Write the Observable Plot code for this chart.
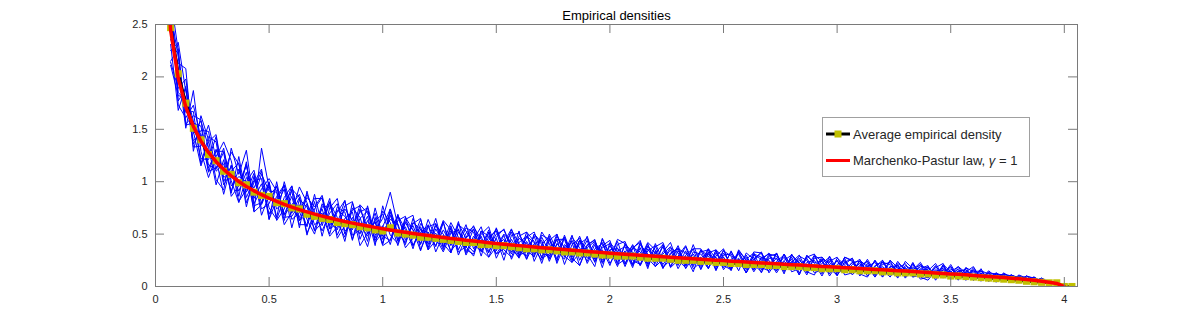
<!DOCTYPE html>
<html><head><meta charset="utf-8">
<script src="https://cdn.jsdelivr.net/npm/d3@7"></script>
<script src="https://cdn.jsdelivr.net/npm/@observablehq/plot@0.6"></script>
<style>
body{margin:0;background:#fff;}
#wrap{position:relative;width:1190px;height:322px;font-family:"Liberation Sans",Arial,sans-serif;}
#legend{position:absolute;left:0;top:0;pointer-events:none;}
</style>
</head><body>
<div id="wrap"></div>
<script>
// ---- data ----
const title = "Empirical densities";
const xTicks = [0, 0.5, 1, 1.5, 2, 2.5, 3, 3.5, 4];
const yTicks = [0, 0.5, 1, 1.5, 2, 2.5];
const binWidth = 1 / 30;           // histogram bin spacing
const firstBin = 2;                // first bin index shown for the empirical curves
const redFirstBin = 1;

// individual empirical densities (a sample of the blue runs)
const run1 = [2.71,1.85,1.78,1.36,1.49,1.48,1.10,1.17,0.91,1.12, 0.90,1.08,0.68,0.87,0.95,0.68,0.78,0.88,0.64,0.50, 0.76,0.77,0.61,0.47,0.80,0.59,0.48,0.63,0.69,0.49, 0.41,0.62,0.54,0.41,0.64,0.46,0.33,0.51,0.54,0.37, 0.55,0.33,0.44,0.55,0.35,0.28,0.46,0.41,0.29,0.47, 0.33,0.45,0.21,0.40,0.46,0.27,0.33,0.42,0.22,0.34, 0.38,0.21,0.42,0.27,0.19,0.33,0.42,0.22,0.29,0.14, 0.35,0.29,0.18,0.35,0.19,0.26,0.13,0.30,0.26,0.19, 0.27,0.12,0.31,0.18,0.27,0.15,0.22,0.28,0.11,0.20, 0.15,0.24,0.12,0.25,0.16,0.09,0.20,0.13,0.21,0.11, 0.18,0.10,0.20,0.07,0.14,0.16,0.08,0.13,0.05,0.10, 0.12,0.07,0.10,0.04,0.07,0.06,0.03,0.04,0.01,0.00];
const run2 = [2.25,2.33,1.86,1.58,1.22,1.21,1.43,1.00,1.15,0.97, 1.15,0.84,0.98,0.69,0.86,0.97,0.64,0.70,0.88,0.71, 0.53,0.70,0.79,0.53,0.59,0.71,0.75,0.42,0.52,0.64, 0.60,0.37,0.46,0.64,0.40,0.58,0.50,0.34,0.43,0.59, 0.36,0.48,0.28,0.38,0.50,0.42,0.29,0.52,0.43,0.28, 0.46,0.31,0.38,0.23,0.32,0.48,0.26,0.37,0.41,0.21, 0.26,0.40,0.27,0.38,0.32,0.18,0.26,0.39,0.20,0.31, 0.19,0.36,0.27,0.20,0.33,0.21,0.28,0.14,0.25,0.32, 0.19,0.28,0.16,0.23,0.11,0.29,0.17,0.14,0.25,0.15, 0.23,0.14,0.26,0.14,0.11,0.19,0.08,0.20,0.16,0.21, 0.08,0.16,0.13,0.19,0.09,0.09,0.16,0.05,0.13,0.08, 0.08,0.11,0.08,0.04,0.06,0.06,0.04,0.02,0.01,0.00];
const run3 = [2.88,1.73,1.61,1.73,1.42,1.13,1.29,1.29,1.01,0.80, 1.04,0.94,1.10,0.75,0.64,0.85,0.96,0.63,0.69,0.84, 0.84,0.55,0.71,0.82,0.49,0.54,0.67,0.39,0.77,0.52, 0.68,0.54,0.39,0.55,0.44,0.65,0.38,0.56,0.30,0.47, 0.58,0.40,0.51,0.31,0.42,0.55,0.34,0.29,0.50,0.40, 0.27,0.48,0.37,0.42,0.20,0.37,0.43,0.29,0.27,0.45, 0.41,0.32,0.20,0.36,0.24,0.38,0.19,0.29,0.39,0.23, 0.28,0.17,0.35,0.28,0.17,0.34,0.25,0.21,0.14,0.29, 0.31,0.19,0.23,0.30,0.15,0.17,0.28,0.21,0.13,0.27, 0.11,0.19,0.24,0.11,0.23,0.21,0.12,0.18,0.09,0.17, 0.20,0.06,0.16,0.14,0.19,0.08,0.11,0.15,0.12,0.06, 0.13,0.08,0.06,0.10,0.05,0.05,0.05,0.03,0.02,0.00];
const run4 = [2.36,2.13,2.08,1.29,1.63,1.40,1.02,0.92,1.32,1.07, 1.30,0.79,0.93,1.03,0.91,0.59,0.71,0.95,0.80,0.59, 0.64,0.84,0.49,0.65,0.71,0.39,0.51,0.70,0.45,0.71, 0.44,0.64,0.68,0.35,0.52,0.38,0.61,0.39,0.55,0.30, 0.45,0.57,0.33,0.46,0.25,0.49,0.51,0.35,0.28,0.52, 0.41,0.24,0.47,0.28,0.44,0.31,0.19,0.46,0.30,0.24, 0.33,0.20,0.37,0.17,0.41,0.25,0.35,0.17,0.30,0.36, 0.16,0.31,0.22,0.34,0.29,0.15,0.32,0.26,0.18,0.15, 0.32,0.16,0.28,0.13,0.23,0.25,0.12,0.29,0.16,0.13, 0.21,0.26,0.12,0.18,0.09,0.25,0.18,0.10,0.19,0.12, 0.10,0.18,0.22,0.07,0.15,0.16,0.06,0.12,0.07,0.13, 0.06,0.11,0.08,0.06,0.09,0.04,0.05,0.03,0.01,0.00];
const run5 = [2.54,2.06,1.51,1.87,1.29,1.04,1.24,1.38,1.20,0.86, 1.19,0.71,0.78,0.96,0.74,0.81,0.91,0.56,0.91,0.64, 0.74,0.50,0.76,0.71,0.44,0.74,0.56,0.61,0.41,0.74, 0.51,0.42,0.60,0.65,0.35,0.55,0.42,0.61,0.47,0.35, 0.31,0.50,0.57,0.34,0.49,0.26,0.42,0.48,0.36,0.25, 0.50,0.34,0.26,0.47,0.37,0.24,0.40,0.18,0.42,0.33, 0.21,0.37,0.33,0.22,0.38,0.42,0.23,0.25,0.18,0.33, 0.31,0.21,0.34,0.16,0.26,0.31,0.16,0.33,0.32,0.20, 0.15,0.31,0.18,0.25,0.18,0.30,0.24,0.12,0.27,0.21, 0.27,0.12,0.19,0.23,0.13,0.11,0.24,0.15,0.11,0.21, 0.15,0.22,0.10,0.15,0.07,0.18,0.14,0.07,0.15,0.09, 0.10,0.05,0.11,0.08,0.05,0.08,0.04,0.04,0.01,0.00];
const run6 = [2.14,1.89,1.98,1.46,1.58,1.33,0.97,1.21,0.89,1.24, 0.85,1.01,1.03,0.64,1.00,0.66,0.67,0.78,0.57,0.81, 0.48,0.75,0.84,0.50,0.66,0.50,0.77,0.49,0.58,0.40, 0.67,0.47,0.58,0.40,0.59,0.33,0.49,0.43,0.59,0.53, 0.40,0.34,0.47,0.53,0.30,0.45,0.32,0.47,0.52,0.32, 0.29,0.45,0.45,0.25,0.41,0.46,0.28,0.35,0.20,0.40, 0.43,0.25,0.21,0.39,0.26,0.31,0.38,0.20,0.34,0.17, 0.23,0.36,0.20,0.28,0.15,0.33,0.20,0.28,0.13,0.27, 0.27,0.14,0.30,0.23,0.15,0.18,0.26,0.10,0.21,0.25, 0.16,0.22,0.10,0.19,0.25,0.11,0.17,0.22,0.09,0.16, 0.16,0.08,0.18,0.10,0.19,0.13,0.06,0.13,0.08,0.13, 0.09,0.09,0.06,0.10,0.07,0.04,0.05,0.03,0.02,0.00];
const run7 = [2.62,2.19,1.66,1.67,1.17,1.43,1.38,0.97,1.09,0.91, 1.09,0.72,1.32,0.94,0.78,0.93,0.56,0.83,0.76,0.54, 0.79,0.62,0.54,0.77,0.81,0.45,0.63,0.46,0.72,0.61, 0.39,0.61,0.48,0.57,0.37,0.60,0.37,0.53,0.40,0.56, 0.52,0.29,0.52,0.39,0.45,0.31,0.53,0.26,0.41,0.44, 0.24,0.41,0.32,0.49,0.25,0.39,0.45,0.23,0.39,0.26, 0.34,0.18,0.40,0.31,0.22,0.40,0.19,0.34,0.24,0.36, 0.36,0.24,0.28,0.18,0.34,0.19,0.30,0.16,0.28,0.25, 0.13,0.24,0.18,0.29,0.25,0.13,0.16,0.26,0.13,0.28, 0.25,0.10,0.20,0.11,0.21,0.23,0.13,0.10,0.23,0.09, 0.06,0.15,0.11,0.21,0.09,0.08,0.18,0.08,0.13,0.06, 0.12,0.09,0.04,0.07,0.09,0.05,0.03,0.04,0.01,0.00];
const run8 = [2.11,1.82,1.81,1.39,1.46,1.09,1.31,1.07,1.28,1.17, 0.76,1.05,0.74,0.79,0.96,0.69,0.86,0.59,0.59,0.88, 0.58,0.80,0.66,0.43,0.75,0.66,0.43,0.75,0.48,0.44, 0.63,0.67,0.39,0.52,0.58,0.43,0.62,0.32,0.52,0.41, 0.33,0.53,0.37,0.50,0.54,0.37,0.27,0.43,0.31,0.49, 0.45,0.26,0.49,0.30,0.44,0.22,0.36,0.41,0.27,0.43, 0.22,0.37,0.42,0.19,0.34,0.21,0.31,0.37,0.17,0.28, 0.33,0.35,0.16,0.32,0.21,0.27,0.13,0.25,0.32,0.13, 0.24,0.30,0.14,0.17,0.29,0.23,0.24,0.16,0.25,0.11, 0.13,0.20,0.24,0.13,0.14,0.25,0.10,0.18,0.11,0.19, 0.18,0.11,0.16,0.09,0.17,0.06,0.14,0.15,0.07,0.12, 0.08,0.11,0.07,0.06,0.05,0.08,0.04,0.03,0.01,0.00];
const run9 = [2.76,2.25,1.54,1.56,1.53,1.16,1.12,1.32,0.96,1.05, 1.00,1.11,0.79,0.99,0.66,1.00,0.74,0.66,0.85,0.76, 0.87,0.58,0.73,0.67,0.54,0.78,0.70,0.53,0.65,0.90, 0.58,0.40,0.65,0.47,0.42,0.51,0.35,0.58,0.35,0.51, 0.57,0.45,0.32,0.56,0.37,0.52,0.30,0.33,0.48,0.27, 0.31,0.50,0.28,0.44,0.31,0.44,0.23,0.39,0.44,0.22, 0.40,0.33,0.25,0.41,0.19,0.26,0.37,0.32,0.20,0.40, 0.21,0.33,0.15,0.30,0.31,0.19,0.26,0.32,0.16,0.31, 0.29,0.18,0.26,0.11,0.30,0.22,0.10,0.24,0.28,0.15, 0.23,0.24,0.14,0.25,0.09,0.19,0.20,0.08,0.16,0.23, 0.11,0.20,0.08,0.17,0.10,0.14,0.08,0.17,0.05,0.10, 0.10,0.07,0.10,0.08,0.03,0.06,0.05,0.02,0.02,0.00];
const run10 = [2.31,1.68,1.91,1.33,1.34,1.54,1.22,0.88,1.16,0.81, 0.93,0.86,1.07,0.91,0.90,0.63,0.93,0.85,0.51,0.66, 0.70,0.48,0.57,0.74,0.63,0.56,0.38,0.66,0.40,0.68, 0.48,0.57,0.36,0.60,0.51,0.39,0.54,0.41,0.62,0.32, 0.48,0.38,0.54,0.27,0.42,0.33,0.48,0.52,0.24,0.40, 0.48,0.22,0.40,0.33,0.48,0.29,0.42,0.22,0.35,0.36, 0.29,0.39,0.20,0.34,0.39,0.19,0.25,0.36,0.32,0.21, 0.28,0.17,0.32,0.22,0.17,0.33,0.18,0.26,0.33,0.17, 0.17,0.31,0.19,0.27,0.13,0.27,0.28,0.17,0.11,0.23, 0.27,0.12,0.22,0.09,0.19,0.13,0.22,0.17,0.09,0.11, 0.16,0.08,0.20,0.09,0.15,0.06,0.16,0.08,0.13,0.12, 0.08,0.08,0.08,0.04,0.09,0.04,0.04,0.04,0.01,0.00];
const run11 = [2.81,1.77,1.89,1.48,1.15,1.38,1.45,1.04,1.10,1.18, 0.80,0.99,1.12,0.64,0.83,0.96,0.70,0.85,0.49,0.74, 0.85,0.55,0.60,0.82,0.45,0.65,0.72,0.44,0.57,0.74, 0.43,0.66,0.54,0.34,0.57,0.60,0.41,0.32,0.60,0.46, 0.55,0.35,0.28,0.47,0.55,0.37,0.28,0.48,0.42,0.22, 0.44,0.50,0.29,0.23,0.44,0.36,0.24,0.45,0.28,0.37, 0.19,0.36,0.44,0.21,0.32,0.40,0.18,0.25,0.38,0.19, 0.35,0.18,0.29,0.36,0.18,0.26,0.13,0.31,0.28,0.18, 0.32,0.15,0.24,0.11,0.28,0.31,0.14,0.21,0.10,0.24, 0.13,0.25,0.19,0.09,0.25,0.13,0.21,0.09,0.22,0.12, 0.19,0.09,0.21,0.14,0.06,0.18,0.08,0.15,0.06,0.12, 0.11,0.05,0.10,0.08,0.04,0.07,0.04,0.04,0.01,0.00];
const run12 = [2.15,2.27,1.55,1.63,1.59,1.10,1.13,1.28,0.86,0.96, 1.17,0.77,0.80,1.00,0.63,0.74,0.96,0.63,0.79,0.53, 0.61,0.81,0.46,0.58,0.73,0.77,0.50,0.62,0.39,0.44, 0.69,0.44,0.61,0.55,0.35,0.44,0.63,0.54,0.33,0.38, 0.29,0.53,0.48,0.31,0.36,0.54,0.41,0.26,0.50,0.42, 0.26,0.40,0.47,0.27,0.20,0.40,0.44,0.25,0.35,0.19, 0.41,0.21,0.27,0.42,0.35,0.17,0.32,0.36,0.21,0.28, 0.17,0.32,0.35,0.20,0.16,0.35,0.25,0.16,0.27,0.31, 0.15,0.25,0.30,0.22,0.14,0.11,0.26,0.23,0.14,0.28, 0.24,0.12,0.09,0.20,0.23,0.14,0.09,0.24,0.17,0.07, 0.09,0.19,0.11,0.19,0.07,0.14,0.19,0.07,0.14,0.04, 0.12,0.10,0.05,0.10,0.08,0.04,0.05,0.03,0.01,0.00];

// average empirical density (black line, yellow squares)
const average = [2.47,2.03,1.75,1.51,1.40,1.26,1.20,1.10,1.07,0.99, 0.97,0.90,0.87,0.86,0.80,0.79,0.75,0.74,0.69,0.67, 0.65,0.64,0.61,0.60,0.59,0.57,0.56,0.54,0.53,0.56, 0.51,0.50,0.49,0.47,0.47,0.46,0.45,0.44,0.43,0.42, 0.42,0.40,0.40,0.39,0.39,0.38,0.37,0.36,0.36,0.35, 0.35,0.34,0.33,0.33,0.32,0.32,0.31,0.30,0.30,0.29, 0.29,0.29,0.28,0.27,0.27,0.27,0.26,0.25,0.25,0.25, 0.24,0.24,0.23,0.23,0.22,0.22,0.21,0.21,0.21,0.20, 0.20,0.19,0.19,0.19,0.18,0.18,0.17,0.17,0.17,0.16, 0.16,0.15,0.15,0.15,0.14,0.14,0.13,0.13,0.13,0.12, 0.12,0.11,0.11,0.10,0.10,0.095,0.09,0.085,0.08,0.075, 0.07,0.065,0.06,0.05,0.045,0.04,0.035,0.035,0.00,0.00];

// Marchenko-Pastur curve, gamma = 1 (red line)
const marchenkoPastur = [3.473, 2.445,1.988,1.714,1.527,1.387,1.279,1.191,1.118,1.056,1.002, 0.955,0.913,0.876,0.842,0.812,0.783,0.758,0.734,0.712,0.691, 0.672,0.654,0.637,0.620,0.605,0.591,0.577,0.564,0.551,0.539, 0.528,0.517,0.506,0.496,0.486,0.477,0.468,0.459,0.450,0.442, 0.434,0.426,0.418,0.411,0.404,0.397,0.390,0.383,0.377,0.370, 0.364,0.358,0.352,0.346,0.340,0.335,0.329,0.324,0.318,0.313, 0.308,0.303,0.298,0.293,0.288,0.283,0.278,0.274,0.269,0.264, 0.260,0.255,0.251,0.247,0.242,0.238,0.234,0.229,0.225,0.221, 0.217,0.213,0.208,0.204,0.200,0.196,0.192,0.188,0.184,0.180, 0.176,0.171,0.167,0.163,0.159,0.155,0.151,0.147,0.142,0.138, 0.134,0.129,0.125,0.120,0.116,0.111,0.106,0.101,0.096,0.091, 0.085,0.079,0.073,0.066,0.059,0.051,0.041,0.029,0.000];

const runs = [run1, run2, run3, run4, run5, run6, run7, run8, run9, run10, run11, run12];
const xDomain = [0, 4.058];
const yDomain = [0, 2.5];

// ---- layout ----
const W = 1190, H = 322, mL = 155, mR = 113, mT = 24, mB = 36;
const innerW = W - mL - mR, innerH = H - mT - mB, tickLen = 9;
const axisColor = "#7a7a7a";
const font = "'Liberation Sans', Arial, Helvetica, sans-serif";

const binX = (first) => (d, i) => (first + i) * binWidth;

const plot = Plot.plot({
  width: W, height: H,
  marginLeft: mL, marginRight: mR, marginTop: mT, marginBottom: mB,
  style: {fontFamily: font, fontSize: "11px", color: "#262626", background: "#fff"},
  x: {domain: xDomain},
  y: {domain: yDomain},
  marks: [
    ...runs.map(r => Plot.line(r, {x: binX(firstBin), y: d => d, stroke: "#0000ff", strokeWidth: 1, clip: true})),
    Plot.line(average, {x: binX(firstBin), y: d => d, stroke: "#000", strokeWidth: 3, clip: true}),
    Plot.dot(average, {x: binX(firstBin), y: d => d, symbol: "square", r: 4, fill: "#c0c000", stroke: "none", clip: true}),
    Plot.line(marchenkoPastur, {x: binX(redFirstBin), y: d => d, stroke: "#ff0000", strokeWidth: 3.5, clip: true}),
    Plot.frame({stroke: axisColor}),
    Plot.tickX(xTicks, {x: d => d, stroke: axisColor, insetTop: innerH - tickLen}),
    Plot.tickX(xTicks, {x: d => d, stroke: axisColor, insetBottom: innerH - tickLen}),
    Plot.tickY(yTicks, {y: d => d, stroke: axisColor, insetRight: innerW - tickLen}),
    Plot.tickY(yTicks, {y: d => d, stroke: axisColor, insetLeft: innerW - tickLen}),
    Plot.axisX({ticks: xTicks, tickSize: 0, tickPadding: 9, tickFormat: d => String(d), label: null}),
    Plot.axisY({ticks: yTicks, tickSize: 0, tickPadding: 8, tickFormat: d => String(d), label: null}),
    Plot.text([title], {frameAnchor: "top", lineAnchor: "bottom", dy: -4.5, fontSize: 13, fill: "#000"})
  ]
});
const wrap = document.getElementById("wrap");
wrap.appendChild(plot);

// ---- legend ----
const ns = "http://www.w3.org/2000/svg";
const lg = document.createElementNS(ns, "svg");
lg.setAttribute("id", "legend");
lg.setAttribute("width", W); lg.setAttribute("height", H);
lg.innerHTML = `
<rect x="822.5" y="117.5" width="207" height="59" fill="#fff" stroke="#a0a0a0" stroke-width="1"/>
<line x1="826" y1="134" x2="850" y2="134" stroke="#000" stroke-width="3"/>
<rect x="834.5" y="130.5" width="7" height="7" fill="#c0c000"/>
<text x="853" y="138.5" font-family="${font}" font-size="13" fill="#262626">Average empirical density</text>
<line x1="826" y1="160.5" x2="850" y2="160.5" stroke="#ff0000" stroke-width="3"/>
<text x="853" y="165" font-family="${font}" font-size="13" fill="#262626">Marchenko-Pastur law, <tspan font-style="italic">γ</tspan> = 1</text>`;
wrap.appendChild(lg);
</script>
</body></html>
